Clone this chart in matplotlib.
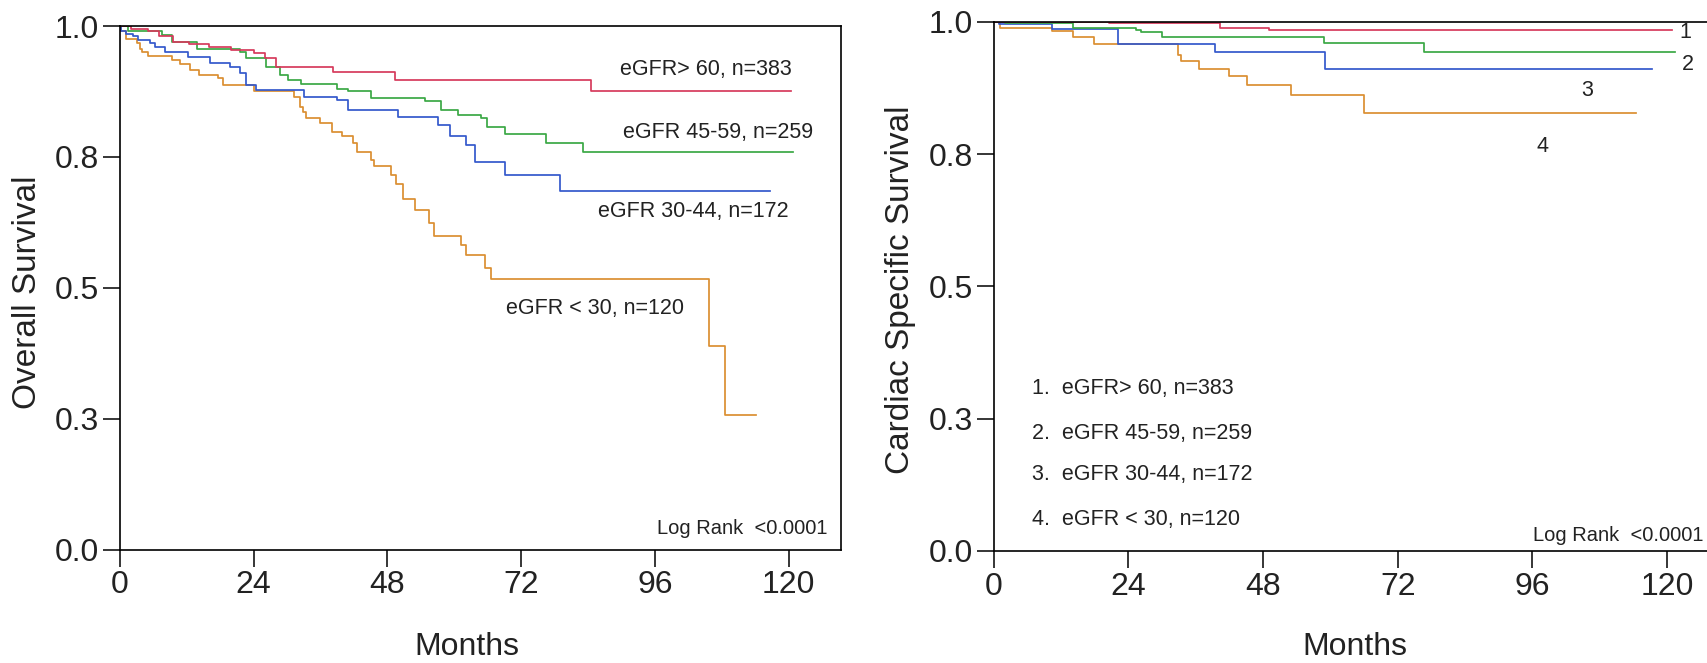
import matplotlib
matplotlib.use("Agg")
import matplotlib.pyplot as plt

plt.rcParams['font.family'] = ['Liberation Sans', 'DejaVu Sans']

# ---------------- data ----------------
months_ticks = [0, 24, 48, 72, 96, 120]
y_ticks = [0.0, 0.25, 0.5, 0.75, 1.0]
y_tick_labels = ["0.0", "0.3", "0.5", "0.8", "1.0"]

group_labels = ["eGFR> 60, n=383", "eGFR 45-59, n=259", "eGFR 30-44, n=172", "eGFR < 30, n=120"]
group_colors = ["#d63a5c", "#3aa845", "#3458cc", "#db8f31"]

# Overall survival (left panel)
os_t_gt60 = [0, 2, 5, 7, 9.5, 12.5, 16, 20, 24, 26, 28, 38.2, 49.4, 84.5, 120.5]
os_s_gt60 = [1.0, 0.995, 0.99, 0.98, 0.97, 0.965, 0.96, 0.955, 0.948, 0.938, 0.921, 0.913, 0.897, 0.876, 0.876]

os_t_4559 = [0, 1.5, 7.5, 9.3, 13.8, 21.5, 22.7, 26.3, 28.7, 30.2, 32.6, 38.9, 41.0, 45.1, 54.7,
             57.7, 60.7, 64.9, 65.8, 69.1, 76.4, 83.2, 120.8]
os_s_4559 = [1.0, 0.991, 0.983, 0.969, 0.957, 0.951, 0.938, 0.921, 0.906, 0.896, 0.889, 0.880, 0.875, 0.862, 0.856,
             0.840, 0.830, 0.824, 0.808, 0.794, 0.776, 0.760, 0.760]

os_t_3044 = [0, 0.3, 1.2, 2.4, 3.3, 5.4, 6.3, 8.1, 12.3, 16.1, 19.7, 21.5, 22.7, 24.5, 33.0, 38.9,
             41.0, 49.9, 57.1, 59.2, 62.2, 63.7, 69.1, 78.9, 116.6]
os_s_3044 = [1.0, 0.99, 0.985, 0.98, 0.973, 0.967, 0.959, 0.951, 0.941, 0.930, 0.922, 0.911, 0.887, 0.877, 0.864, 0.858,
             0.840, 0.826, 0.811, 0.790, 0.773, 0.741, 0.716, 0.685, 0.685]

os_t_lt30 = [0, 0.3, 1.2, 3.0, 3.6, 3.9, 5.1, 9.3, 10.8, 12.6, 14.3, 17.6, 18.5, 24.0, 31.2, 32.3, 32.9, 33.5,
             35.9, 38.0, 39.8, 41.9, 42.5, 45.1, 45.7, 48.7, 49.6, 50.8, 53.0, 55.5, 56.4, 61.3, 62.2, 65.6,
             66.6, 105.8, 108.6, 114.1]
os_s_lt30 = [1.0, 0.99, 0.975, 0.967, 0.957, 0.951, 0.943, 0.935, 0.927, 0.916, 0.906, 0.900, 0.887, 0.875, 0.864,
             0.846, 0.836, 0.824, 0.814, 0.798, 0.790, 0.776, 0.760, 0.744, 0.733, 0.716, 0.698, 0.670, 0.649,
             0.623, 0.599, 0.582, 0.563, 0.538, 0.517, 0.389, 0.256, 0.256]

# Cardiac specific survival (right panel)
css_t_gt60 = [0, 20.5, 40.4, 49.1, 120.9]
css_s_gt60 = [1.0, 0.998, 0.988, 0.984, 0.984]

css_t_4559 = [0, 2.0, 14.1, 25.4, 26.3, 29.9, 58.8, 76.6, 121.4]
css_s_4559 = [1.0, 0.997, 0.989, 0.985, 0.980, 0.971, 0.959, 0.943, 0.943]

css_t_3044 = [0, 1.0, 10.3, 22.1, 39.4, 59.1, 117.3]
css_s_3044 = [1.0, 0.995, 0.987, 0.957, 0.942, 0.910, 0.910]

css_t_lt30 = [0, 1.1, 10.3, 14.1, 17.9, 32.9, 33.3, 36.5, 41.9, 45.2, 53.0, 66.0, 114.4]
css_s_lt30 = [1.0, 0.988, 0.983, 0.971, 0.958, 0.938, 0.926, 0.911, 0.898, 0.881, 0.861, 0.827, 0.827]

log_rank_text = "Log Rank  <0.0001"

# ---------------- figure ----------------
W, H = 1708, 663
fig = plt.figure(figsize=(W / 100, H / 100), dpi=100)
fig.patch.set_facecolor("white")

ax1 = fig.add_axes([119.8 / W, (H - 549.5) / H, 721.7 / W, 523.5 / H])
ax2 = fig.add_axes([993.7 / W, (H - 551.0) / H, 726.8 / W, 529.3 / H])

txt_color = "#222222"
line_w = 1.25

def style_axes(ax):
    ax.set_xlim(0, 129.5)
    ax.set_ylim(0, 1.0)
    ax.set_xticks(months_ticks)
    ax.set_xticklabels([str(m) for m in months_ticks])
    ax.set_yticks(y_ticks)
    ax.set_yticklabels(y_tick_labels)
    ax.tick_params(axis='both', direction='out', length=12, width=1.1, color='black',
                   labelsize=23, labelcolor=txt_color)
    ax.tick_params(axis='x', pad=3)
    ax.tick_params(axis='y', pad=3)
    for sp in ax.spines.values():
        sp.set_linewidth(1.2)
        sp.set_color('black')
        sp.set_zorder(5)

os_series = [(os_t_gt60, os_s_gt60), (os_t_4559, os_s_4559), (os_t_3044, os_s_3044), (os_t_lt30, os_s_lt30)]
css_series = [(css_t_gt60, css_s_gt60), (css_t_4559, css_s_4559), (css_t_3044, css_s_3044), (css_t_lt30, css_s_lt30)]

# draw orange first so others overlap like reference
for i in [3, 2, 1, 0]:
    t, s = os_series[i]
    ax1.step(t, s, where='post', color=group_colors[i], lw=line_w)
    t, s = css_series[i]
    ax2.step(t, s, where='post', color=group_colors[i], lw=line_w)

style_axes(ax1)
style_axes(ax2)

# Left annotations
ann_fs = 15.5
ax1.text(120.5, 0.916, group_labels[0], ha='right', va='center', fontsize=ann_fs, color=txt_color)
ax1.text(124.4, 0.797, group_labels[1], ha='right', va='center', fontsize=ann_fs, color=txt_color)
ax1.text(120.0, 0.645, group_labels[2], ha='right', va='center', fontsize=ann_fs, color=txt_color)
ax1.text(69.3, 0.461, group_labels[3], ha='left', va='center', fontsize=ann_fs, color=txt_color)
ax1.text(127.0, 0.040, log_rank_text, ha='right', va='center', fontsize=14.5, color=txt_color)

# Right annotations
num_pos = [(123.3, 0.979), (123.6, 0.919), (105.7, 0.870), (97.7, 0.764)]
for k, (x, y) in enumerate(num_pos):
    ax2.text(x, y, str(k + 1), ha='center', va='center', fontsize=ann_fs, color=txt_color)
legend_y = [0.307, 0.222, 0.144, 0.059]
for k, y in enumerate(legend_y):
    ax2.text(6.9, y, f"{k + 1}.  {group_labels[k]}", ha='left', va='center', fontsize=ann_fs, color=txt_color)
ax2.text(126.5, 0.030, log_rank_text, ha='right', va='center', fontsize=14.5, color=txt_color)

# Axis labels
ax1.set_xlabel("Months", fontsize=23, color=txt_color)
ax1.xaxis.label.set_va('center')
ax1.xaxis.set_label_coords(0.481, -0.186)
ax2.set_xlabel("Months", fontsize=23, color=txt_color)
ax2.xaxis.label.set_va('center')
ax2.xaxis.set_label_coords(0.497, -0.181)

ax1.set_ylabel("Overall Survival", fontsize=24, color=txt_color)
ax1.yaxis.label.set_va('center')
ax1.yaxis.set_label_coords(-0.1272, 0.491)
ax2.set_ylabel("Cardiac Specific Survival", fontsize=24, color=txt_color)
ax2.yaxis.label.set_va('center')
ax2.yaxis.set_label_coords(-0.1289, 0.494)

fig.savefig("out.png", dpi=100, facecolor="white")
